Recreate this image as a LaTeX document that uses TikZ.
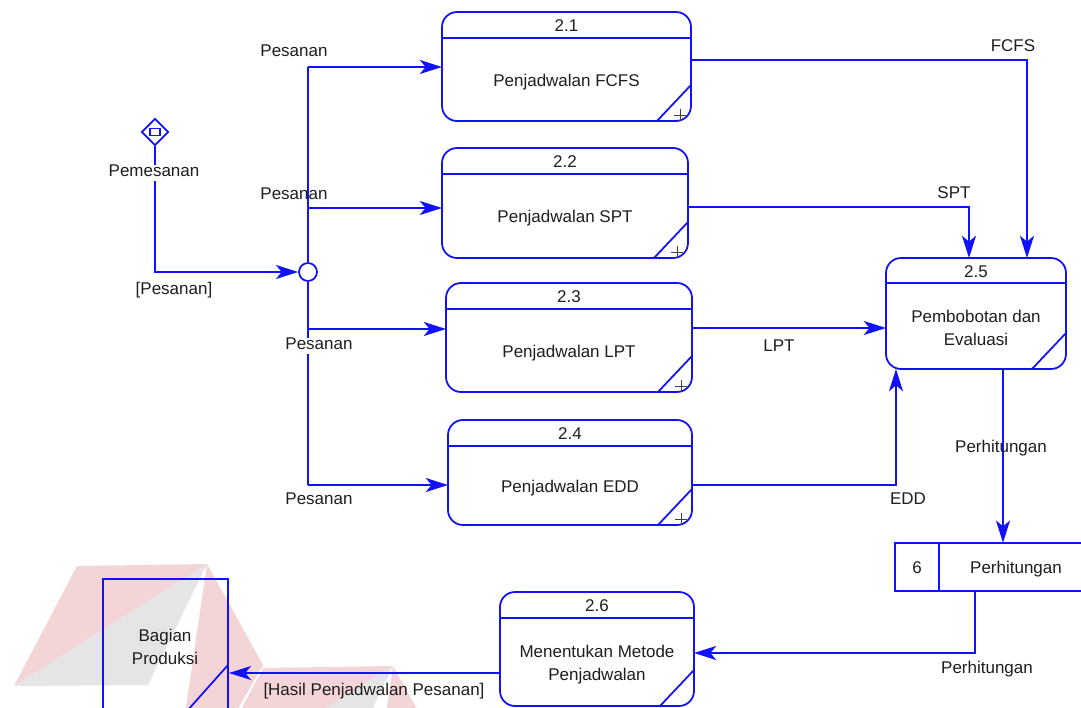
\documentclass[tikz,border=0pt]{standalone}
\usepackage{fontspec}
\setmainfont{Liberation Sans}
\usetikzlibrary{arrows.meta,shapes.geometric}

\definecolor{flowblue}{RGB}{18,18,250}
\definecolor{inkgray}{RGB}{30,30,30}
\definecolor{markpink}{RGB}{243,212,215}
\definecolor{markgray}{RGB}{229,229,229}

\tikzset{
  x=0.03cm, y=-0.03cm,
  wire/.style={draw=flowblue, line width=1.5pt},
  flow/.style={wire, -{Stealth[length=19pt,width=12pt,inset=5pt]}},
  procbox/.style={draw=flowblue, line width=1.5pt, rounded corners=0.45cm, inner sep=0pt, outer sep=0pt},
  txt/.style={text=inkgray, font=\fontsize{14.5}{19.6}\selectfont, inner sep=1pt, text height=1.5ex, text depth=.25ex, yshift=-2.5pt},
  boxtxt/.style={text=inkgray, font=\fontsize{14.5}{19.6}\selectfont, inner sep=0pt, align=center, yshift=-2pt},
  lblw/.style={txt, fill=white, inner sep=2pt},
  plusmark/.style={draw=black!75, line width=0.8pt},
}

% process box: name, left, top, right, bottom, header y, number, text
\newcommand\procnode[8]{%
  \node[procbox, minimum width={(#4-#2)*0.03cm}, minimum height={(#5-#3)*0.03cm}] (#1) at ({(#2+#4)/2},{(#3+#5)/2}) {};
  \draw[wire] (#2,#6) -- (#4,#6);
  \node[txt] (#1-id) at ({(#2+#4)/2},{(#3+#6)/2}) {#7};
  \node[boxtxt] (#1-txt) at ({(#2+#4)/2},{(#6+#5)/2}) {#8};
  \draw[wire] ({#4-34},#5) -- (#4,{#5-36});
}
% expand marker in the lower right corner
\newcommand\expandmark[2]{%
  \draw[plusmark] ({#1-11-6},{#2-6}) -- ({#1-11+6},{#2-6}) ({#1-11},{#2-12}) -- ({#1-11},{#2});
}
% background logo piece, placed by its apex
\newcommand\logopiece[2]{%
  \begin{scope}[shift={(#1,#2)}]
    \fill[markpink] (-130,2) -- (0,0) -- (-193,122) -- cycle;
    \fill[markgray] (-193,122) -- (0,0) -- (-59,121) -- cycle;
    \fill[markpink] (0,0) -- (56,101) -- (28,150) -- (-22,150) -- cycle;
  \end{scope}
}

\begin{document}
\begin{tikzpicture}
\useasboundingbox (0,0) rectangle (1081,708);
\clip (0,0) rectangle (1081,708);
\fill[white] (0,0) rectangle (1081,708);

% background logo
\logopiece{207}{564}
\logopiece{393}{666}

% processes
\procnode{p21}{442}{12}{691}{121}{38}{2.1}{Penjadwalan FCFS}
\procnode{p22}{442}{148}{688}{258}{174}{2.2}{Penjadwalan SPT}
\procnode{p23}{446}{283}{692}{392}{309}{2.3}{Penjadwalan LPT}
\procnode{p24}{448}{420}{692}{525}{446}{2.4}{Penjadwalan EDD}
\procnode{p25}{886}{258}{1066}{369}{283}{2.5}{Pembobotan dan\\Evaluasi}
\procnode{p26}{500}{592}{694}{706}{618}{2.6}{Menentukan Metode\\Penjadwalan}
\expandmark{691}{121}
\expandmark{688}{258}
\expandmark{692}{392}
\expandmark{692}{525}

% external entity
\node[draw=flowblue, line width=1.5pt, inner sep=0pt, minimum width={125*0.03cm}, minimum height={132*0.03cm}] (ext) at (165.5,645) {};
\node[boxtxt] (ext-txt) at (165,645) {Bagian\\Produksi};
\draw[wire] (187,711) -- (228,665);

% data store
\node[inner sep=0pt, minimum width={230*0.03cm}, minimum height={48*0.03cm}] (ds) at (1010,567) {};
\draw[wire] (ds.north east) -- (ds.north west) -- (ds.south west) -- (ds.south east);
\draw[wire] (939,543) -- (939,591);
\node[txt] (ds-id) at (917,567) {6};
\node[txt] (ds-name) at (1016,567) {Perhitungan};

% event source and junction
\node[diamond, draw=flowblue, line width=1.5pt, inner sep=0pt, minimum size={27*0.03cm}] (src) at (155,132) {};
\draw[wire] (150,128.5) rectangle (160,135.5);
\node[circle, draw=flowblue, line width=1.5pt, fill=white, inner sep=0pt, minimum size={18*0.03cm}] (jn) at (308,272) {};

% bend points
\coordinate (c0) at (155,272);
\coordinate (k1) at (308,67);
\coordinate (k2) at (308,208);
\coordinate (k3) at (308,329);
\coordinate (k4) at (308,485);
\coordinate (f1) at (1027,60);
\coordinate (s1) at (969,207);
\coordinate (l1) at (700,328);
\coordinate (e1) at (896,485);
\coordinate (h1) at (1003,400);
\coordinate (d1) at (975,653);
\coordinate (g1) at (400,673);

% flows
\draw[flow] (src.south) -- (c0) -- (jn.west);
\draw[wire] (jn.north) -- (k1);
\draw[wire] (jn.south) -- (k4);
\draw[flow] (k1) -- (k1 -| p21.west);
\draw[flow] (k2) -- (k2 -| p22.west);
\draw[flow] (k3) -- (k3 -| p23.west);
\draw[flow] (k4) -- (k4 -| p24.west);
\draw[flow] (f1 -| p21.east) -- (f1) -- (f1 |- p25.north);
\draw[flow] (s1 -| p22.east) -- (s1) -- (s1 |- p25.north);
\draw[flow] (l1 -| p23.east) -- (l1 -| p25.west);
\draw[flow] (e1 -| p24.east) -- (e1) -- (e1 |- p25.south);
\draw[flow] (h1 |- p25.south) -- (h1 |- ds.north);
\draw[flow] (d1 |- ds.south) -- (d1) -- (d1 -| p26.east);
\draw[flow] (g1 -| p26.west) -- (g1 -| ext.east);

% flow labels
\node[lblw] (lb-src) at (154,170) {Pemesanan};
\node[txt] (lb-in) at (174,288) {[Pesanan]};
\node[txt] (lb-q1) at (294,50) {Pesanan};
\node[txt] (lb-q2) at (294,193) {Pesanan};
\node[lblw] (lb-q3) at (319,343) {Pesanan};
\node[txt] (lb-q4) at (319,498) {Pesanan};
\node[txt] (lb-fcfs) at (1013,45) {FCFS};
\node[txt] (lb-spt) at (954,192) {SPT};
\node[txt] (lb-lpt) at (779,345) {LPT};
\node[txt] (lb-edd) at (908,498) {EDD};
\node[txt] (lb-calc) at (1001,446) {Perhitungan};
\node[txt] (lb-calc2) at (987,667) {Perhitungan};
\node[txt] (lb-out) at (374,689) {[Hasil Penjadwalan Pesanan]};
\end{tikzpicture}
\end{document}
